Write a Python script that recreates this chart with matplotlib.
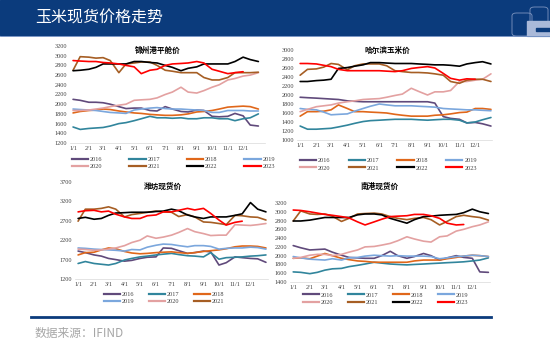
"""
玉米现货价格走势: 四个港口/产区的玉米现货价格季节性对比 (2016-2023)
"""

import matplotlib.pyplot as plt
from matplotlib.patches import Rectangle, FancyBboxPatch
from matplotlib.lines import Line2D

plt.rcParams['font.family'] = ['Noto Sans CJK SC', 'DejaVu Sans']

# 横轴: 每月1日和15日 (一年中的第几天), 最后一点为12/31
month_starts = [0, 31, 59, 90, 120, 151, 181, 212, 243, 273, 304, 334]
days = []
for d in month_starts:
    days += [d, d + 14]
days.append(364)
tick_labels = [f"{m}/1" for m in range(1, 13)]

years = ["2016", "2017", "2018", "2019", "2020", "2021", "2022", "2023"]
colors = ["#604A7B", "#31859C", "#E0671A", "#7BA7DD",
          "#E3A1A1", "#A65E24", "#000000", "#FF0000"]

# 锦州港平舱价
jinzhou = {
    "2016": [2100, 2080, 2040, 2040, 2030, 2000, 1950, 1910, 1920, 1920, 1870, 1860, 1950,
             1900, 1850, 1840, 1880, 1870, 1750, 1740, 1750, 1810, 1760, 1570, 1550],
    "2017": [1530, 1480, 1500, 1510, 1520, 1550, 1600, 1620, 1660, 1700, 1750, 1720, 1720,
             1710, 1720, 1700, 1700, 1720, 1720, 1700, 1700, 1660, 1700, 1720, 1800],
    "2018": [1820, 1850, 1870, 1880, 1900, 1890, 1860, 1840, 1820, 1810, 1790, 1780, 1770,
             1770, 1780, 1800, 1840, 1850, 1870, 1900, 1940, 1950, 1960, 1950, 1900],
    "2019": [1900, 1890, 1880, 1870, 1850, 1830, 1820, 1810, 1880, 1900, 1920, 1930, 1910,
             1900, 1900, 1890, 1880, 1870, 1830, 1830, 1870, 1870, 1870, 1860, 1860],
    "2020": [1870, 1870, 1880, 1900, 1920, 1950, 1980, 2000, 2080, 2090, 2100, 2130, 2200,
             2250, 2350, 2250, 2230, 2280, 2350, 2400, 2500, 2530, 2580, 2600, 2650],
    "2021": [2700, 2980, 2970, 2950, 2960, 2900, 2650, 2830, 2850, 2870, 2870, 2800, 2700,
             2680, 2650, 2650, 2650, 2550, 2500, 2500, 2550, 2650, 2650, 2650, 2660],
    "2022": [2690, 2700, 2720, 2760, 2830, 2830, 2830, 2830, 2880, 2880, 2860, 2850, 2800,
             2760, 2690, 2740, 2770, 2830, 2830, 2830, 2830, 2880, 2970, 2920, 2880],
    "2023": [2900, 2890, 2880, 2880, 2860, 2850, 2830, 2800, 2770, 2630, 2700, 2720, 2800,
             2830, 2840, 2850, 2880, 2850, 2720, 2680, 2630, 2650, 2670],
}

# 哈尔滨玉米价
haerbin = {
    "2016": [1950, 1940, 1930, 1920, 1910, 1900, 1870, 1860, 1850, 1850, 1850, 1850, 1850,
             1850, 1850, 1850, 1850, 1820, 1520, 1480, 1460, 1380, 1390, 1360, 1310],
    "2017": [1310, 1240, 1240, 1250, 1260, 1290, 1330, 1370, 1410, 1430, 1440, 1450, 1460,
             1460, 1460, 1450, 1440, 1450, 1460, 1460, 1440, 1380, 1400, 1450, 1500],
    "2018": [1530, 1630, 1630, 1640, 1670, 1780, 1700, 1630, 1630, 1620, 1610, 1600, 1570,
             1550, 1530, 1530, 1530, 1550, 1560, 1580, 1610, 1620, 1700, 1700, 1680],
    "2019": [1700, 1680, 1670, 1620, 1560, 1570, 1580, 1640, 1700, 1750, 1800, 1780, 1760,
             1760, 1760, 1750, 1740, 1730, 1700, 1690, 1680, 1670, 1670, 1660, 1650],
    "2020": [1630, 1680, 1740, 1760, 1780, 1820, 1850, 1870, 1900, 1910, 1920, 1950, 1990,
             2020, 2150, 2080, 2000, 2070, 2070, 2100, 2300, 2300, 2330, 2350, 2470],
    "2021": [2440, 2570, 2580, 2620, 2700, 2680, 2560, 2650, 2690, 2690, 2690, 2650, 2540,
             2520, 2500, 2500, 2490, 2470, 2440, 2300, 2260, 2330, 2350, 2350, 2300],
    "2022": [2300, 2300, 2320, 2330, 2350, 2590, 2610, 2640, 2670, 2720, 2720, 2710, 2700,
             2700, 2700, 2690, 2680, 2670, 2670, 2660, 2640, 2690, 2720, 2740, 2690],
    "2023": [2700, 2700, 2690, 2660, 2630, 2570, 2540, 2540, 2540, 2540, 2540, 2530, 2520,
             2540, 2590, 2610, 2630, 2600, 2480, 2370, 2330, 2360, 2350],
}

# 潍坊现货价
weifang = {
    "2016": [1920, 1880, 1820, 1790, 1730, 1700, 1660, 1680, 1730, 1760, 1770, 2000, 1990,
             1930, 1860, 1880, 1920, 1900, 1560, 1620, 1770, 1750, 1730, 1720, 1630],
    "2017": [1600, 1650, 1600, 1580, 1560, 1600, 1690, 1730, 1770, 1790, 1820, 1840, 1860,
             1830, 1800, 1790, 1770, 1880, 1710, 1750, 1760, 1770, 1790, 1800, 1820],
    "2018": [1820, 1880, 1890, 1950, 2000, 1980, 1910, 1870, 1850, 1860, 1880, 1890, 1900,
             1880, 1860, 1880, 1910, 1930, 1950, 1980, 2030, 2050, 2050, 2040, 2000],
    "2019": [2000, 1990, 1970, 1960, 1950, 1940, 1920, 1960, 1950, 2020, 2070, 2100, 2090,
             2060, 2030, 2060, 2060, 2040, 1970, 1990, 2000, 2000, 2020, 2010, 1970],
    "2020": [1970, 1960, 1940, 1950, 1970, 2000, 2060, 2140, 2200, 2310, 2250, 2280, 2330,
             2400, 2500, 2420, 2370, 2320, 2330, 2330, 2600, 2590, 2580, 2600, 2630],
    "2021": [2690, 3000, 3000, 3020, 3060, 3000, 2800, 2860, 2890, 2920, 2950, 2930, 2920,
             2810, 2860, 2800, 2670, 2660, 2630, 2600, 2840, 2830, 2800, 2790, 2720],
    "2022": [2760, 2790, 2740, 2760, 2840, 2900, 2910, 2920, 2920, 2920, 2940, 2950, 3000,
             2960, 2850, 2800, 2760, 2800, 2800, 2800, 2840, 2880, 3170, 3000, 2930],
    "2023": [2930, 2960, 2970, 2930, 2950, 2870, 2800, 2760, 2760, 2830, 2850, 2930, 2930,
             2970, 3020, 2980, 3020, 2890, 2720, 2590, 2660, 2690],
}

# 南港现货价
nangang = {
    "2016": [2230, 2180, 2130, 2140, 2150, 2080, 2010, 1960, 1950, 1940, 1940, 2000, 2100,
             2000, 1940, 1980, 2050, 2000, 1900, 1950, 2000, 1960, 1940, 1630, 1620],
    "2017": [1630, 1620, 1590, 1620, 1670, 1700, 1710, 1750, 1780, 1810, 1850, 1830, 1810,
             1800, 1790, 1800, 1810, 1820, 1830, 1840, 1850, 1860, 1880, 1900, 1950],
    "2018": [1940, 1950, 1930, 1990, 2050, 2000, 1940, 1910, 1880, 1870, 1850, 1850, 1850,
             1850, 1850, 1880, 1900, 1900, 1900, 1930, 1960, 1990, 2010, 2000, 1980],
    "2019": [1980, 1950, 1920, 1910, 1900, 1930, 1900, 1950, 1960, 1990, 2010, 2000, 1990,
             2000, 1990, 1990, 1990, 1980, 1930, 1950, 1980, 1990, 2010, 2000, 1980],
    "2020": [1940, 1960, 2010, 2030, 2030, 2000, 2030, 2080, 2130, 2200, 2210, 2240, 2280,
             2340, 2430, 2380, 2330, 2310, 2430, 2450, 2560, 2600, 2660, 2700, 2770],
    "2021": [2790, 3020, 2950, 2940, 2950, 2900, 2780, 2850, 2950, 2960, 2970, 2950, 2890,
             2850, 2820, 2850, 2870, 2820, 2700, 2780, 2890, 2920, 2890, 2870, 2810],
    "2022": [2790, 2790, 2810, 2840, 2870, 2870, 2870, 2870, 2930, 2950, 2950, 2930, 2850,
             2800, 2740, 2820, 2890, 2900, 2920, 2930, 2940, 2980, 3060, 3000, 2960],
    "2023": [3040, 3030, 3000, 2970, 2940, 2920, 2890, 2860, 2770, 2700, 2770, 2830, 2890,
             2900, 2910, 2940, 2940, 2910, 2850, 2740, 2700, 2710],
}

W, H = 550, 350
HEADER_BLUE = "#0B3B7C"


def fig_box(left, top, right, bottom):
    # 像素坐标 -> figure 比例坐标
    return [left / W, 1 - bottom / H, (right - left) / W, (bottom - top) / H]


def draw_panel(fig, box, data, title, title_xy, ylim, ystep, xlim,
               legend_years, ncol, colspace, leg_y):
    ax = fig.add_axes(box)
    for year, color in zip(years, colors):
        vals = data[year]
        ax.plot(days[:len(vals)], vals, color=color, lw=1.2, solid_capstyle="round")
    ax.set_ylim(*ylim)
    ax.set_xlim(*xlim)
    ax.set_yticks(range(ylim[0], ylim[1] + 1, ystep))
    ax.set_xticks(month_starts)
    ax.set_xticklabels(tick_labels)
    ax.tick_params(length=0, labelsize=4.5, pad=2)
    for lab in ax.get_xticklabels() + ax.get_yticklabels():
        lab.set_family("Liberation Serif")
        lab.set_color("#404040")
    for s in ["top", "right", "left"]:
        ax.spines[s].set_visible(False)
    ax.spines["bottom"].set_color("#d9d9d9")
    ax.spines["bottom"].set_linewidth(0.5)
    fig.text(title_xy[0] / W, 1 - title_xy[1] / H, title, ha="center", va="center",
             fontsize=5.5, fontweight="bold")

    # 图例按行排列 (Excel风格)
    nrow = (len(legend_years) + ncol - 1) // ncol
    order = []
    for c in range(ncol):
        for r in range(nrow):
            i = r * ncol + c
            if i < len(legend_years):
                order.append(legend_years[i])
    handles = [Line2D([], [], color=colors[years.index(y)], lw=1.6) for y in order]
    leg = ax.legend(handles, order, ncol=ncol, loc="upper left", frameon=False,
                    bbox_to_anchor=leg_y, fontsize=4.5, handlelength=2.6,
                    handletextpad=0.3, columnspacing=colspace, labelspacing=0.3,
                    borderaxespad=0, borderpad=0)
    for t in leg.get_texts():
        t.set_family("Liberation Serif")
        t.set_color("#404040")
    return ax


fig = plt.figure(figsize=(5.5, 3.5), dpi=100)

# 顶部标题栏
fig.patches.append(Rectangle((0, 1 - 35 / H), 1, 35 / H, transform=fig.transFigure,
                             color=HEADER_BLUE, zorder=0))
fig.lines.append(Line2D([0, 1], [1 - 35.5 / H] * 2, transform=fig.transFigure,
                        color="#6C8BBF", lw=0.6))
fig.text(35 / W, 1 - 18 / H, "玉米现货价格走势", color="white", fontsize=11.5,
         ha="left", va="center")

# 右上角标志
fig.patches.append(FancyBboxPatch((512 / W, 1 - 36 / H), 20 / W, 23 / H,
                                  boxstyle="round,pad=0,rounding_size=0.008",
                                  transform=fig.transFigure, fill=False,
                                  ec="#7E95C0", lw=0.6))
fig.patches.append(FancyBboxPatch((530 / W, 1 - 26 / H), 18 / W, 19 / H,
                                  boxstyle="round,pad=0,rounding_size=0.008",
                                  transform=fig.transFigure, fill=False,
                                  ec="#7E95C0", lw=0.6))
fig.patches.append(Rectangle((527 / W, 1 - 36 / H), 23 / W, 15 / H,
                             transform=fig.transFigure, color="#A9B9D9"))
fig.patches.append(Rectangle((536 / W, 1 - 31 / H), 14 / W, 3 / H,
                             transform=fig.transFigure, color=HEADER_BLUE))

# 四个子图
draw_panel(fig, fig_box(70, 46, 265, 143), jinzhou, "锦州港平舱价", (158, 50),
           (1200, 3200), 200, (-6, 377), years, 4, 4.3, (0.01, -0.14))
draw_panel(fig, fig_box(297, 50, 492, 140), haerbin, "哈尔滨玉米价", (387, 50),
           (1000, 3000), 200, (-6, 366), years, 4, 2.9, (0.015, -0.2))
draw_panel(fig, fig_box(75, 182, 268, 279), weifang, "潍坊现货价", (163, 186),
           (1200, 3700), 500, (-6, 368), years[:6], 3, 2.3, (0.15, -0.13))
draw_panel(fig, fig_box(290, 203, 490, 282), nangang, "南港现货价", (380, 186),
           (1400, 3200), 200, (-6, 367), years, 4, 2.3, (0.065, -0.13))

# 底部分隔线和数据来源
fig.lines.append(Line2D([31 / W, 491 / W], [1 - 317 / H] * 2, transform=fig.transFigure,
                        color=HEADER_BLUE, lw=2))
fig.text(35 / W, 1 - 333 / H, "数据来源：IFIND", color="#A6A6A6", fontsize=8.5,
         ha="left", va="center")

fig.savefig("out.png", dpi=100)
